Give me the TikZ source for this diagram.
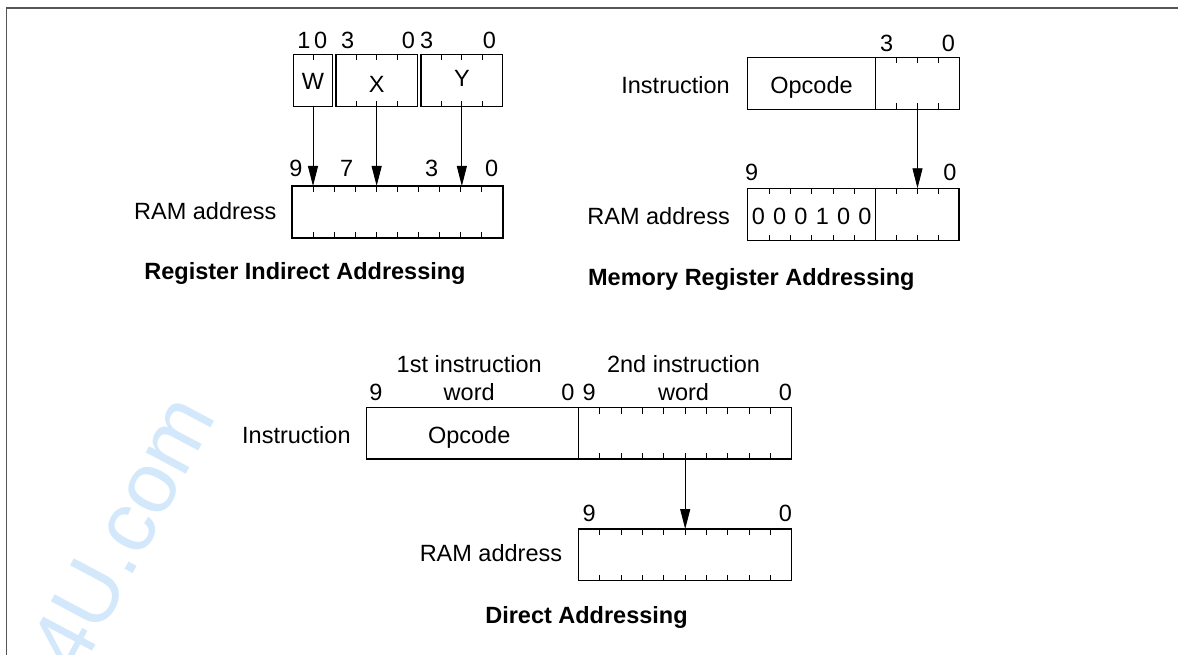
\documentclass[tikz,border=0pt]{standalone}
\usepackage{fontspec}
\setmainfont{Liberation Sans}
\usetikzlibrary{arrows.meta,calc}
\definecolor{wmblue}{RGB}{212,232,252}
\definecolor{framegray}{RGB}{85,85,85}
\newcommand{\bitticks}[3]{%
  \foreach \k in {#3}{%
    \pgfmathsetmacro{\bitfrac}{\k/#2}%
    \draw[bittick] ($(#1.north west)!\bitfrac!(#1.north east)$) -- ++(0,6);
    \draw[bittick] ($(#1.south west)!\bitfrac!(#1.south east)$) -- ++(0,-6);
  }}
\begin{document}
\begin{tikzpicture}[x=1pt,y=-1pt,
  font=\fontsize{23.5}{28}\selectfont,
  field/.style={draw=black, line width=1.1pt, inner sep=0pt, outer sep=0pt, anchor=north west},
  bittick/.style={draw=black, line width=0.9pt},
  ptr/.style={draw=black, line width=0.9pt, -{Triangle[length=20pt,width=10pt]}},
  lbl/.style={inner sep=0pt, anchor=base},
  rlbl/.style={inner sep=0pt, anchor=base east},
  title/.style={inner sep=0pt, anchor=base, font=\fontsize{23.5}{28}\selectfont\bfseries},
  frame/.style={draw=framegray, line width=1.5pt}]
\useasboundingbox (0,0) rectangle (1178,655);
\fill[white] (0,0) rectangle (1178,655);
% watermark
\node[text=wmblue, rotate=62, inner sep=0pt, font=\fontsize{86}{88}\selectfont] (wm) at (122,533) {4U.com};
% frame
\draw[frame] (6.5,655) -- (6.5,8) -- (1178,8);

% ---------- Register Indirect Addressing ----------
\node[field, minimum width=39.4pt, minimum height=52.4pt] (wbox) at (293.3,54.3) {};
\node[field, minimum width=81.3pt, minimum height=52.4pt] (xbox) at (336,54.3) {};
\node[field, minimum width=81.7pt, minimum height=52.4pt] (ybox) at (421,54.3) {};
\node[field, minimum width=211pt, minimum height=52pt] (ramA) at (292,186) {};
\draw[bittick] (wbox.north) -- ++(0,6);
\bitticks{xbox}{4}{1,2,3}
\bitticks{ybox}{4}{1,2,3}
\bitticks{ramA}{10}{1,...,9}
\node[lbl] (wtxt) at (313,90) {W};
\node[lbl] (xtxt) at (376.7,92.7) {X};
\node[lbl] (ytxt) at (461.9,86.7) {Y};
\node[lbl] (wh) at (304,48.3) {1};
\node[lbl] (wl) at (320.7,48.3) {0};
\node[lbl] (xh) at (347.7,48.3) {3};
\node[lbl] (xl) at (408.3,48.3) {0};
\node[lbl] (yh) at (426.7,48.3) {3};
\node[lbl] (yl) at (489.3,48.3) {0};
\node[lbl] (ra9) at (296,177) {9};
\node[lbl] (ra7) at (346.7,177) {7};
\node[lbl] (ra3) at (431.7,177) {3};
\node[lbl] (ra0) at (491.7,177) {0};
\draw[ptr] (wbox.south) -- (wbox.south |- ramA.north);
\draw[ptr] (xbox.south) -- (xbox.south |- ramA.north);
\draw[ptr] (ybox.south) -- (ybox.south |- ramA.north);
\node[rlbl] (ramAlbl) at (276.7,220) {RAM address};
\node[title] (titleA) at (305,279) {Register Indirect Addressing};

% ---------- Memory Register Addressing ----------
\node[field, minimum width=128.4pt, minimum height=52pt] (mop) at (747.3,57.3) {};
\node[field, minimum width=83.6pt, minimum height=52pt] (mfld) at (875.7,57.3) {};
\node[field, minimum width=128pt, minimum height=52.4pt] (mramH) at (747.7,188.3) {};
\node[field, minimum width=83.3pt, minimum height=52.4pt] (mramL) at (875.7,188.3) {};
\bitticks{mfld}{4}{1,2,3}
\bitticks{mramH}{6}{1,...,5}
\bitticks{mramL}{4}{1,2,3}
\node[lbl] (mf3) at (886.7,51.7) {3};
\node[lbl] (mf0) at (948.3,51.7) {0};
\node[lbl] (mopc) at (811.5,93.3) {Opcode};
\node[rlbl] (minstr) at (730,93.3) {Instruction};
\node[lbl] (mr9) at (751.7,180.7) {9};
\node[lbl] (mr0) at (950,180.7) {0};
\foreach \d/\x [count=\i] in {0/758.4,0/779.7,0/801.0,1/822.4,0/843.7,0/865.0}
  \node[lbl] (mbit\i) at (\x,225) {\d};
\node[rlbl] (mramlbl) at (730,225) {RAM address};
\draw[ptr] (mfld.south) -- (mfld.south |- mramL.north);
\node[title] (titleB) at (751.4,285) {Memory Register Addressing};

% ---------- Direct Addressing ----------
\node[field, minimum width=212.3pt, minimum height=51.3pt] (dop) at (366.2,407.7) {};
\node[field, minimum width=213.4pt, minimum height=51.3pt] (dfld) at (578.5,407.7) {};
\node[field, minimum width=213.4pt, minimum height=51.7pt] (dram) at (578.5,529) {};
\bitticks{dfld}{10}{1,...,9}
\bitticks{dram}{10}{1,...,9}
\node[lbl] (d1a) at (469.2,372.3) {1st instruction};
\node[lbl] (d1b) at (469.2,400) {word};
\node[lbl] (d2a) at (683.5,372.3) {2nd instruction};
\node[lbl] (d2b) at (683.5,400) {word};
\node[lbl] (d19) at (375.8,400) {9};
\node[lbl] (d10) at (568,400) {0};
\node[lbl] (d29) at (589.2,400) {9};
\node[lbl] (d20) at (785.4,400) {0};
\node[lbl] (dopc) at (469.2,443.3) {Opcode};
\node[rlbl] (dinstr) at (350.8,443.3) {Instruction};
\node[lbl] (dr9) at (589.2,521) {9};
\node[lbl] (dr0) at (785.4,521) {0};
\draw[ptr] (dfld.south) -- (dfld.south |- dram.north);
\node[rlbl] (dramlbl) at (562.3,561.7) {RAM address};
\node[title] (titleC) at (586.5,623.3) {Direct Addressing};
\end{tikzpicture}
\end{document}
